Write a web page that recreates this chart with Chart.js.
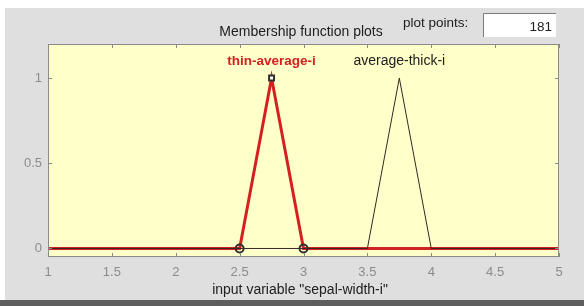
<!DOCTYPE html>
<html>
<head>
<meta charset="utf-8">
<script src="https://cdn.jsdelivr.net/npm/chart.js@4"></script>
<style>
  html, body { margin: 0; padding: 0; background: #fff; }
  #wrap { width: 584px; height: 306px; position: relative; }
</style>
</head>
<body>
<div id="wrap"><canvas id="mfChart" width="584" height="306"></canvas></div>
<script>
// membership functions (trimf corner points)
const mfNames = ['thin-average-i', 'average-thick-i'];
const thinAvgX = [1, 2.5, 2.75, 3, 5];
const thinAvgY = [0, 0, 1, 0, 0];
const avgThickX = [1, 3.5, 3.75, 4, 5];
const avgThickY = [0, 0, 1, 0, 0];
// markers on the selected MF
const markerX = [2.5, 2.75, 3];
const markerY = [0, 1, 0];
const markerShape = ['circle', 'rect', 'circle'];
// axes
const xTicks = [1, 1.5, 2, 2.5, 3, 3.5, 4, 4.5, 5];
const yTicks = [0, 0.5, 1];
const xLabel = 'input variable "sepal-width-i"';
const plotPoints = '181';

const toXY = (xs, ys) => xs.map((x, i) => ({ x: x, y: ys[i] }));
const FONT = '"Liberation Sans", Arial, sans-serif';

const decor = {
  id: 'decor',
  beforeDraw(chart) {
    const c = chart.ctx, a = chart.chartArea;
    c.save();
    c.fillStyle = '#ffffff';
    c.fillRect(0, 0, 584, 306);
    c.fillStyle = '#dfdfdf';
    c.fillRect(5, 8, 579, 292);
    c.fillStyle = '#5e5e5e';
    c.fillRect(0, 300, 584, 6);
    c.fillStyle = '#ffffca';
    c.fillRect(a.left, a.top, a.right - a.left, a.bottom - a.top);
    c.restore();
  },
  afterDraw(chart) {
    const c = chart.ctx, a = chart.chartArea;
    const xs = chart.scales.x, ys = chart.scales.y;
    c.save();
    // frame + inward ticks
    c.strokeStyle = '#8a8a8a';
    c.lineWidth = 1;
    c.strokeRect(a.left + 0.5, a.top + 0.5, a.right - a.left - 1, a.bottom - a.top - 1);
    c.beginPath();
    xTicks.forEach(v => {
      const px = Math.round(xs.getPixelForValue(v)) + 0.5;
      c.moveTo(px, a.bottom); c.lineTo(px, a.bottom - 4);
      c.moveTo(px, a.top); c.lineTo(px, a.top + 4);
    });
    yTicks.forEach(v => {
      const py = Math.round(ys.getPixelForValue(v)) + 0.5;
      c.moveTo(a.left, py); c.lineTo(a.left + 4, py);
      c.moveTo(a.right, py); c.lineTo(a.right - 4, py);
    });
    c.stroke();

    // MF labels above peaks
    c.textAlign = 'center';
    c.textBaseline = 'middle';
    c.font = 'bold 13.5px ' + FONT;
    c.fillStyle = '#d42020';
    c.fillText(mfNames[0], xs.getPixelForValue(thinAvgX[2]), ys.getPixelForValue(1.1));
    c.font = '14px ' + FONT;
    c.fillStyle = '#202020';
    c.fillText(mfNames[1], xs.getPixelForValue(avgThickX[2]), ys.getPixelForValue(1.1));

    // title, plot points box, x label
    c.font = '14px ' + FONT;
    c.fillText('Membership function plots', 301, 32);
    c.font = '13.5px ' + FONT;
    c.textAlign = 'left';
    c.fillText('plot points:', 403, 23);
    c.fillStyle = '#ffffff';
    c.fillRect(483, 13, 73, 24);
    c.strokeStyle = '#7a7a7a';
    c.beginPath();
    c.moveTo(483.5, 37); c.lineTo(483.5, 13.5); c.lineTo(556, 13.5);
    c.stroke();
    c.fillStyle = '#202020';
    c.textAlign = 'right';
    c.fillText(plotPoints, 552, 27);
    c.textAlign = 'center';
    c.font = '14px ' + FONT;
    c.fillText(xLabel, 300, 290);
    c.restore();
  }
};

new Chart(document.getElementById('mfChart'), {
  type: 'scatter',
  data: {
    datasets: [
      {
        label: 'markers',
        data: toXY(markerX, markerY),
        showLine: false,
        pointStyle: markerShape,
        pointRadius: [4, 3.5, 4],
        borderColor: '#303030',
        backgroundColor: ['rgba(255,255,255,0)', '#ffffff', 'rgba(255,255,255,0)'],
        pointBorderWidth: 2
      },
      {
        label: mfNames[1],
        data: toXY(avgThickX, avgThickY),
        showLine: true,
        borderColor: '#3a2626',
        borderWidth: 1,
        pointRadius: 0
      },
      {
        label: mfNames[0],
        data: toXY(thinAvgX, thinAvgY),
        showLine: true,
        borderColor: '#d42020',
        borderWidth: 3,
        pointRadius: 0
      }
    ]
  },
  options: {
    responsive: false,
    animation: false,
    events: [],
    layout: { padding: { top: 44, right: 25, left: 0, bottom: 0 } },
    plugins: { legend: { display: false }, tooltip: { enabled: false } },
    scales: {
      x: {
        type: 'linear', min: 1, max: 5,
        afterBuildTicks: s => { s.ticks = xTicks.map(v => ({ value: v })); },
        afterFit: s => { s.height = 49; },
        grid: { display: false, drawTicks: false },
        border: { display: false },
        ticks: { color: '#8c8c8c', padding: 8, font: { family: FONT, size: 13 }, maxRotation: 0,
          callback: v => String(v) }
      },
      y: {
        type: 'linear', min: -0.05, max: 1.2,
        afterBuildTicks: s => { s.ticks = yTicks.map(v => ({ value: v })); },
        afterFit: s => { s.width = 48; },
        grid: { display: false, drawTicks: false },
        border: { display: false },
        ticks: { color: '#8c8c8c', padding: 6, font: { family: FONT, size: 13 },
          callback: v => String(v) }
      }
    }
  },
  plugins: [decor]
});
</script>
</body>
</html>
